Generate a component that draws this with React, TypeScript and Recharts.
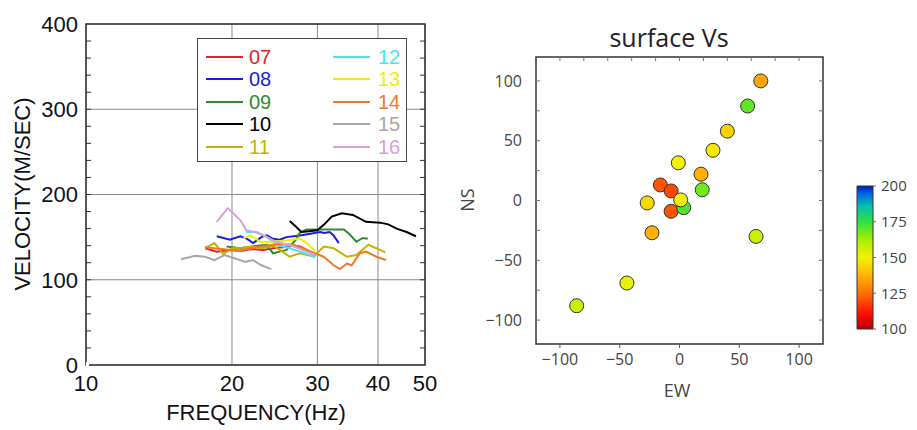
import React from 'react'
import {
  Bar,
  BarChart,
  CartesianGrid,
  Cell,
  Line,
  LineChart,
  ReferenceArea,
  Scatter,
  ScatterChart,
  XAxis,
  YAxis,
} from 'recharts'

type Pt = [number, number] // [frequency Hz, velocity m/s]

const LEFT_FONT = '"Liberation Sans", Arial, sans-serif'
const RIGHT_FONT = '"Open Sans", "Noto Sans", sans-serif'

// ---- dispersion curves (left panel) ----
const freqTicks = [10, 20, 30, 40, 50]
const velTicks = [0, 100, 200, 300, 400]
const velMinorTicks = [20, 40, 60, 80, 100, 120, 140, 160, 180, 200, 220, 240, 260, 280, 300, 320, 340, 360, 380]

const line07: Pt[] = [[17.6, 137], [18.6, 133], [19.8, 135], [21, 134], [22, 136], [23.2, 135], [24.3, 137], [25.5, 138], [26.3, 141], [27.6, 139], [28.5, 135], [29.6, 130]]
const line08: Pt[] = [[18.6, 151], [19.8, 147], [20.8, 151], [21.5, 148], [22.1, 143], [23, 150], [23.6, 152], [24.3, 148], [25.1, 147], [25.9, 150], [27.6, 152], [29, 154], [30.4, 156], [31, 155], [31.8, 156], [32.4, 152], [33.2, 143]]
const line09: Pt[] = [[19.5, 139], [20.8, 137], [22, 139], [23.6, 141], [24.3, 131], [25.1, 133], [25.9, 135], [27, 146], [27.6, 155], [28.5, 159], [30, 159], [32, 159], [34, 159], [35, 153], [36.1, 144.5], [37.2, 149], [38.1, 148]]
const line10: Pt[] = [[26.3, 169], [27, 163], [27.8, 156], [28.8, 157], [30, 158], [31, 165], [32.1, 174], [33.7, 178], [35.5, 176], [37.8, 168], [40.4, 167], [42, 165], [43.7, 160], [45.8, 156], [47.9, 151]]
const line11: Pt[] = [[17.6, 137], [18.4, 143], [19.2, 130], [20, 137], [21, 137.5], [22, 139], [23, 137], [24.3, 140], [25.1, 135], [26.3, 127], [27.6, 131], [29.5, 127], [30.9, 139], [32.4, 137], [34.5, 127], [36.1, 129], [38.2, 141], [39.7, 137], [41.4, 132]]
const line12: Pt[] = [[21.4, 156], [22.5, 156], [23.6, 150], [24.7, 141], [26.3, 137], [27.6, 133], [28.5, 130], [29.7, 127]]
const line13: Pt[] = [[21.1, 148.5], [21.8, 152], [22.9, 144.5], [24.3, 144.5], [25.9, 146], [27.6, 148.5], [28.5, 143], [29.7, 134]]
const line14: Pt[] = [[17.6, 138], [19, 136], [20.5, 134], [22, 137], [23.5, 140], [25, 142], [26.7, 141], [28.5, 135], [30.9, 127], [32.4, 117], [33.4, 112.5], [34.5, 119], [35.3, 117], [36.7, 131], [37.8, 133], [39.7, 127], [41.6, 123]]
const line15: Pt[] = [[15.7, 124], [16.8, 128], [17.6, 127], [18.4, 123], [19.3, 129], [20.3, 125], [21.3, 121], [22.1, 123], [23, 117], [24.1, 112.5]]
const line16: Pt[] = [[18.6, 168], [19.6, 184], [20.8, 170], [21.4, 158], [22.3, 156], [23.2, 152], [24.7, 144.5], [26.8, 139], [28.5, 133], [29.7, 129]]

const seriesNames = ['07', '08', '09', '10', '11', '12', '13', '14', '15', '16']
const seriesColors = ['#e8202a', '#1a1ae6', '#2e8b2e', '#000000', '#c8b000', '#48e4f0', '#f2ee00', '#f07828', '#a8a8a8', '#d8a0d8']
const seriesData = [line07, line08, line09, line10, line11, line12, line13, line14, line15, line16]

// ---- surface Vs map (right panel) ----
const ewValues = [68, 57, 40, 28, -1, 18, 19, -16, -7, -7, 3.5, 1, -27, -23, 64, -44, -86]
const nsValues = [100, 79, 58, 42, 31.5, 22, 9, 13, 8, -9, -6, 0.5, -2, -27, -30, -69, -88]
const vsValues = [135, 170, 143, 148, 150, 137, 168, 121, 119, 121, 172, 150, 145, 137, 157, 152, 157]
const posTicks = [-100, -50, 0, 50, 100]
const posMinorTicks = [-100, -80, -60, -40, -20, 0, 20, 40, 60, 80, 100]
const posSideTicks = [-100, -75, -50, -25, 0, 25, 50, 75, 100]

const cbTicks = [100, 125, 150, 175, 200]
const cbStops: [number, string][] = [
  [100, '#b40000'],
  [110, '#ff0a00'],
  [125, '#ff7000'],
  [140, '#ffc000'],
  [150, '#f2f200'],
  [162, '#a8f000'],
  [175, '#30e040'],
  [186, '#00c0b0'],
  [195, '#0060e8'],
  [200, '#0018c0'],
]

const hex = (c: string) => [1, 3, 5].map((i) => parseInt(c.slice(i, i + 2), 16))
function colorFor(v: number) {
  for (let i = 1; i < cbStops.length; i++) {
    const [v0, c0] = cbStops[i - 1]
    const [v1, c1] = cbStops[i]
    if (v <= v1) {
      const t = Math.max(0, (v - v0) / (v1 - v0))
      const a = hex(c0)
      const b = hex(c1)
      return `rgb(${a.map((x, k) => Math.round(x + (b[k] - x) * t)).join(',')})`
    }
  }
  return cbStops[cbStops.length - 1][1]
}

const minus = (v: number) => String(v).replace('-', '\u2212')
const blank = () => ''

const points = ewValues.map((ew, i) => ({ ew, ns: nsValues[i], vs: vsValues[i] }))
// one invisible anchor so the tick-only axes get drawn
const leftAnchor = [{ f: freqTicks[0], v: velTicks[0] }]
const mapAnchor = [{ ew: posTicks[0], ns: posTicks[0] }]
const cbData = [{ name: 'Vs', range: [cbTicks[0], cbTicks[cbTicks.length - 1]] }]

function Legend() {
  return (
    <div
      style={{
        position: 'absolute',
        left: 197,
        top: 38,
        width: 208,
        height: 122,
        border: '1.5px solid #444',
        background: '#fff',
        fontFamily: LEFT_FONT,
        fontSize: 20,
      }}
    >
      {seriesNames.map((name, i) => {
        const col = Math.floor(i / 5)
        const row = i % 5
        const left = col === 0 ? 8 : 135
        return (
          <div
            key={name}
            style={{ position: 'absolute', left, top: 7 + row * 22.4, height: 22, display: 'flex', alignItems: 'center' }}
          >
            <div style={{ width: 37, height: 2, background: seriesColors[i] }} />
            <span style={{ color: seriesColors[i], marginLeft: col === 0 ? 6 : 8, lineHeight: '22px' }}>{name}</span>
          </div>
        )
      })}
    </div>
  )
}

const centered = (x: number, y: number, rotate = 0): React.CSSProperties => ({
  position: 'absolute',
  left: x,
  top: y,
  transform: `translate(-50%, -50%) rotate(${rotate}deg)`,
  whiteSpace: 'nowrap',
  lineHeight: 1,
})

const Dot = (props: any) => {
  const { cx, cy, fill } = props
  if (cx == null || cy == null) return <g />
  return <circle cx={cx} cy={cy} r={7} fill={fill} stroke="#333" strokeWidth={1} />
}

export default function App() {
  return (
    <div style={{ position: 'absolute', left: 0, top: 0, width: 917, height: 430, background: '#fff', overflow: 'hidden' }}>
      <div style={{ position: 'absolute', left: 0, top: 0 }}>
        <LineChart width={450} height={430} margin={{ top: 24, right: 25, bottom: 0, left: 0 }}>
          <CartesianGrid stroke="#8a8a8a" />
          <XAxis
            dataKey="f"
            type="number"
            scale="log"
            domain={[10, 50]}
            ticks={freqTicks}
            allowDataOverflow
            height={65}
            axisLine={false}
            tickLine={false}
            tickSize={0}
            tickMargin={10}
            tick={{ fontSize: 22, fill: '#111', fontFamily: LEFT_FONT }}
          />
          <YAxis
            type="number"
            domain={[0, 400]}
            ticks={velTicks}
            width={86}
            axisLine={false}
            tickLine={false}
            tickSize={0}
            tickMargin={8}
            tick={{ fontSize: 22, fill: '#111', fontFamily: LEFT_FONT }}
          />
          <YAxis yAxisId="ml" mirror width={1} type="number" domain={[0, 400]} ticks={velMinorTicks} tickFormatter={blank} tickLine={{ stroke: '#333', strokeWidth: 1 }} tickSize={5} axisLine={false} />
          <YAxis yAxisId="mr" orientation="right" mirror width={1} type="number" domain={[0, 400]} ticks={velMinorTicks} tickFormatter={blank} tickLine={{ stroke: '#333', strokeWidth: 1 }} tickSize={5} axisLine={false} />
          <ReferenceArea x1={10} x2={50} y1={0} y2={400} fill="none" stroke="#333" strokeWidth={1.5} />
          <Line yAxisId="ml" data={leftAnchor} dataKey="v" stroke="none" dot={false} isAnimationActive={false} />
          <Line yAxisId="mr" data={leftAnchor} dataKey="v" stroke="none" dot={false} isAnimationActive={false} />
          {seriesData.map((d, i) => (
            <Line
              key={seriesNames[i]}
              data={d.map(([f, v]) => ({ f, v }))}
              dataKey="v"
              type="linear"
              stroke={seriesColors[i]}
              strokeWidth={2}
              dot={false}
              isAnimationActive={false}
            />
          ))}
        </LineChart>
      </div>
      <Legend />
      <div style={{ ...centered(23, 194, -90), fontFamily: LEFT_FONT, fontSize: 22, color: '#111' }}>VELOCITY(M/SEC)</div>
      <div style={{ ...centered(256, 413), fontFamily: LEFT_FONT, fontSize: 22, color: '#111' }}>FREQUENCY(Hz)</div>

      <div style={{ position: 'absolute', left: 460, top: 0 }}>
        <ScatterChart width={457} height={430} margin={{ top: 57, right: 94, bottom: 0, left: 0 }}>
          <XAxis
            dataKey="ew"
            type="number"
            domain={[-120, 120]}
            ticks={posTicks}
            height={86}
            axisLine={false}
            tickSize={4}
            tickMargin={6}
            stroke="#555"
            tickFormatter={minus}
            tick={{ fontSize: 16, fill: '#444', fontFamily: RIGHT_FONT }}
          />
          <XAxis xAxisId="top" dataKey="ew" orientation="top" mirror height={1} type="number" domain={[-120, 120]} ticks={posMinorTicks} tickFormatter={blank} tickLine={{ stroke: '#777' }} tickSize={4} axisLine={false} />
          <YAxis
            dataKey="ns"
            type="number"
            domain={[-120, 120]}
            ticks={posTicks}
            width={76}
            axisLine={false}
            tickLine={false}
            tickSize={0}
            tickMargin={14}
            tickFormatter={minus}
            tick={{ fontSize: 16, fill: '#444', fontFamily: RIGHT_FONT }}
          />
          <YAxis yAxisId="l" dataKey="ns" mirror width={1} type="number" domain={[-120, 120]} ticks={posSideTicks} tickFormatter={blank} tickLine={{ stroke: '#777' }} tickSize={4} axisLine={false} />
          <YAxis yAxisId="r" dataKey="ns" orientation="right" mirror width={1} type="number" domain={[-120, 120]} ticks={posSideTicks} tickFormatter={blank} tickLine={{ stroke: '#777' }} tickSize={4} axisLine={false} />
          <ReferenceArea x1={-120} x2={120} y1={-120} y2={120} fill="none" stroke="#333" strokeWidth={1.5} />
          <Scatter xAxisId="top" yAxisId="l" data={mapAnchor} shape={() => <g />} isAnimationActive={false} />
          <Scatter xAxisId="top" yAxisId="r" data={mapAnchor} shape={() => <g />} isAnimationActive={false} />
          <Scatter data={points} shape={Dot} isAnimationActive={false}>
            {points.map((p, i) => (
              <Cell key={i} fill={colorFor(p.vs)} />
            ))}
          </Scatter>
        </ScatterChart>
      </div>
      <div style={{ ...centered(669, 37), fontFamily: RIGHT_FONT, fontSize: 25, color: '#222' }}>surface Vs</div>
      <div style={{ ...centered(677, 390), fontFamily: RIGHT_FONT, fontSize: 18, color: '#444' }}>EW</div>
      <div style={{ ...centered(467, 200, -90), fontFamily: RIGHT_FONT, fontSize: 18, color: '#444' }}>NS</div>

      <div style={{ position: 'absolute', left: 840, top: 170 }}>
        <BarChart
          width={77}
          height={180}
          data={cbData}
          barCategoryGap={0}
          margin={{ top: 16, right: 0, bottom: 21, left: 17 }}
        >
          <defs>
            <linearGradient id="cbGrad" x1="0" y1="1" x2="0" y2="0">
              {cbStops.map(([v, c]) => (
                <stop key={v} offset={`${v - 100}%`} stopColor={c} />
              ))}
            </linearGradient>
          </defs>
          <XAxis dataKey="name" hide />
          <YAxis
            orientation="right"
            type="number"
            domain={[100, 200]}
            ticks={cbTicks}
            width={44}
            axisLine={false}
            tickSize={3}
            tickMargin={5}
            stroke="#666"
            tick={{ fontSize: 15, fill: '#444', fontFamily: RIGHT_FONT }}
          />
          <Bar dataKey="range" fill="url(#cbGrad)" stroke="#333" strokeWidth={1} isAnimationActive={false} />
        </BarChart>
      </div>
    </div>
  )
}
